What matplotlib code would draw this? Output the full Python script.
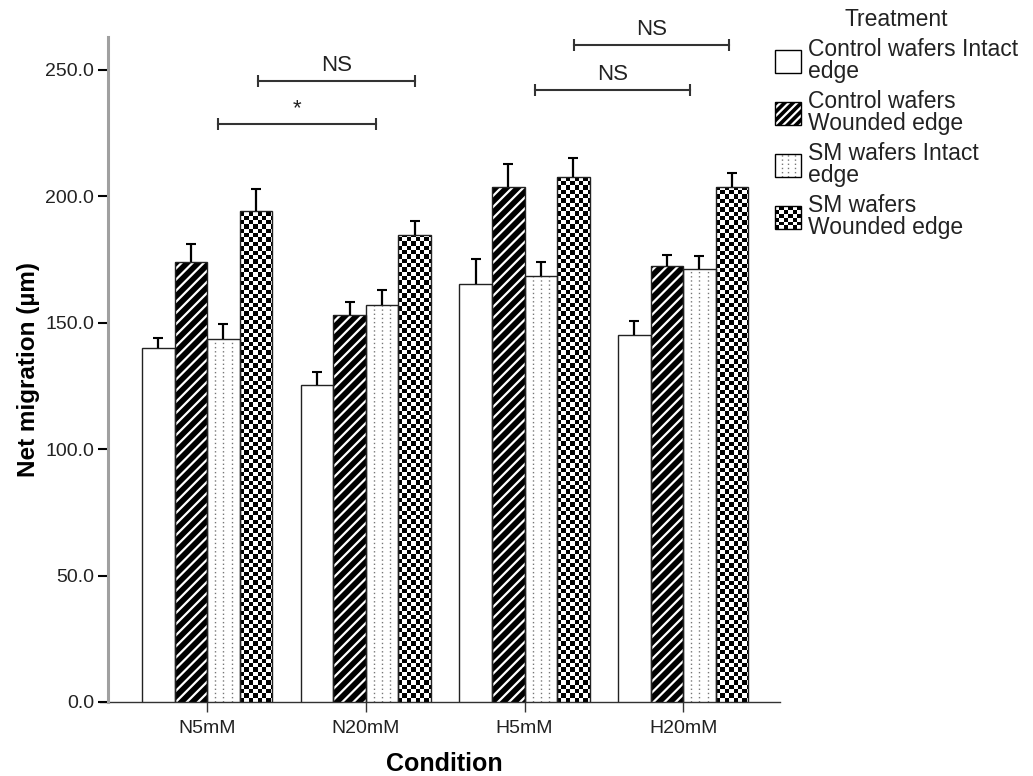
import numpy as np
import matplotlib
matplotlib.use("Agg")
import matplotlib.pyplot as plt
from matplotlib.patches import Rectangle
from matplotlib.lines import Line2D
from matplotlib.legend_handler import HandlerBase

plt.rcParams['font.family'] = ['Liberation Sans', 'DejaVu Sans']
plt.rcParams['hatch.linewidth'] = 1.6

# --- Data ---
conditions = ['N5mM', 'N20mM', 'H5mM', 'H20mM']
treatments = ['Control wafers Intact\nedge', 'Control wafers\nWounded edge',
              'SM wafers Intact\nedge', 'SM wafers\nWounded edge']

ctrl_intact = [140.0, 125.5, 165.5, 145.3]
ctrl_wound = [174.2, 153.0, 203.6, 172.5]
sm_intact = [143.6, 157.0, 168.6, 171.3]
sm_wound = [194.0, 184.7, 207.8, 203.6]

ctrl_intact_err = [3.9, 5.0, 9.6, 5.4]
ctrl_wound_err = [7.0, 5.0, 9.0, 4.4]
sm_intact_err = [5.8, 6.0, 5.3, 4.9]
sm_wound_err = [8.9, 5.5, 7.3, 5.5]

# significance brackets: start, end (category units), height, label
bracket_x1 = [0.069, 0.322, 2.063, 2.309]
bracket_x2 = [1.063, 1.309, 3.044, 3.290]
bracket_y = [228.5, 245.5, 242.0, 259.7]
bracket_txt = ['*', 'NS', 'NS', 'NS']

means = [ctrl_intact, ctrl_wound, sm_intact, sm_wound]
errs = [ctrl_intact_err, ctrl_wound_err, sm_intact_err, sm_wound_err]
styles = ['plain', 'stripes', 'dots', 'checker']

# --- Figure ---
fig = plt.figure(figsize=(10.33, 7.76), dpi=100)
ax = fig.add_axes([108/1033, 74/776, 672/1033, 665/776])
ax.set_xlim(-0.625, 3.61)
ax.set_ylim(0, 263)

x = np.arange(len(conditions))
w = 0.205
offsets = (np.arange(4) - 1.5) * w

px_x = ax.transData.transform((1, 0))[0] - ax.transData.transform((0, 0))[0]
px_y = ax.transData.transform((0, 1))[1] - ax.transData.transform((0, 0))[1]

for vals, err, off, style in zip(means, errs, offsets, styles):
    xs = x + off
    if style == 'stripes':
        ax.bar(xs, vals, w, color='black', edgecolor='white', hatch='///', linewidth=0, zorder=2)
    else:
        bars = ax.bar(xs, vals, w, color='white', edgecolor='none', zorder=2)
    if style == 'dots':
        for k in (-1, 0, 1):
            ax.vlines(xs + k * w / 4, 0, vals, colors='#777777', linewidth=1,
                      linestyles=(0, (1, 2)), zorder=3)
    if style == 'checker':
        cell = w / 7.5
        cell_y = cell * px_x / px_y
        for b in bars:
            ny = int(np.ceil(b.get_height() / cell_y))
            board = np.add.outer(np.arange(ny), np.arange(8)) % 2
            im = ax.imshow(board, cmap='gray', origin='lower', aspect='auto',
                           interpolation='nearest', vmin=0, vmax=1, zorder=3,
                           extent=(b.get_x(), b.get_x() + 8 * cell, 0, ny * cell_y))
            im.set_clip_path(b)
    ax.bar(xs, vals, w, fill=False, edgecolor='#222222', linewidth=1, zorder=4)
    eb = ax.errorbar(xs, vals, yerr=[np.zeros(len(vals)), err], fmt='none',
                     ecolor='black', elinewidth=1.6, capsize=3.3, capthick=1.5, zorder=5)
    for cl in eb[1]:
        if np.allclose(cl.get_ydata(), vals):
            cl.remove()

ax.set_xlim(-0.625, 3.61)
ax.set_ylim(0, 263)

# brackets
for x1, x2, yb, t in zip(bracket_x1, bracket_x2, bracket_y, bracket_txt):
    ax.plot([x1, x2], [yb, yb], color='#333333', linewidth=1.5, marker='|',
            markersize=9, markeredgewidth=1.5, clip_on=False, zorder=6)
    ax.annotate(t, ((x1 + x2) / 2, yb), xytext=(0, 3.5), textcoords='offset points',
                ha='center', va='bottom', fontsize=16, color='#222222', annotation_clip=False)

# axes styling
for s in ['top', 'right', 'bottom']:
    ax.spines[s].set_visible(False)
ax.spines['left'].set_color('#a0a0a0')
ax.spines['left'].set_linewidth(2.2)
ax.add_line(Line2D([-0.012, 1.0], [0, 0], transform=ax.transAxes, color='#333333',
                   linewidth=1, clip_on=False, zorder=1))

ax.set_yticks(np.arange(0, 251, 50))
ax.set_yticklabels([f'{v:.1f}' for v in np.arange(0, 251, 50)])
ax.set_xticks(x)
ax.set_xticklabels(conditions)
ax.tick_params(axis='y', length=7, width=1.5, color='black', labelsize=14,
               labelcolor='#222222', pad=3)
ax.tick_params(axis='x', length=7, width=1, color='#333333', labelsize=14,
               labelcolor='#222222', pad=6)

ax.set_xlabel('Condition', fontsize=18, fontweight='bold', labelpad=11)
ax.set_ylabel('Net migration (µm)', fontsize=17.5, fontweight='bold', labelpad=4)


# --- Legend with drawn patterns ---
class PatternHandler(HandlerBase):
    def __init__(self, kind):
        super().__init__()
        self.kind = kind

    def create_artists(self, legend, orig_handle, xdescent, ydescent,
                       width, height, fontsize, trans):
        x0, y0 = -xdescent, -ydescent
        arts = [Rectangle((x0, y0), width, height, facecolor='white',
                          edgecolor='none', transform=trans)]
        if self.kind == 'stripes':
            arts.append(Rectangle((x0, y0), width, height, facecolor='black',
                                  edgecolor='white', hatch='////', linewidth=0,
                                  transform=trans))
        elif self.kind == 'dots':
            for k in (1, 2, 3):
                arts.append(Line2D([x0 + k * width / 4] * 2, [y0, y0 + height],
                                   linestyle=(0, (1, 2)), color='#777777',
                                   linewidth=1, transform=trans))
        elif self.kind == 'checker':
            n = 6
            cw, ch = width / n, height / n
            for i in range(n):
                for j in range(n):
                    if (i + j) % 2 == 0:
                        arts.append(Rectangle((x0 + i * cw, y0 + j * ch), cw, ch,
                                              facecolor='black', linewidth=0,
                                              transform=trans))
        arts.append(Rectangle((x0, y0), width, height, fill=False,
                              edgecolor='black', linewidth=1, transform=trans))
        return arts


handles = [Rectangle((0, 0), 1, 1) for _ in styles]
hmap = {h: PatternHandler(k) for h, k in zip(handles, styles)}
leg = fig.legend(handles, treatments, handler_map=hmap, loc='upper left',
                 bbox_to_anchor=(775/1033, 1 - 8/776), frameon=False,
                 fontsize=16.5, title='Treatment', title_fontsize=16.5,
                 handlelength=1.15, handleheight=1.2, handletextpad=0.3,
                 labelspacing=0.3, borderpad=0, borderaxespad=0)
for t in leg.get_texts():
    t.set_linespacing(0.95)
    t.set_color('#222222')
leg.get_title().set_color('#222222')

fig.savefig('out.png', dpi=100)
